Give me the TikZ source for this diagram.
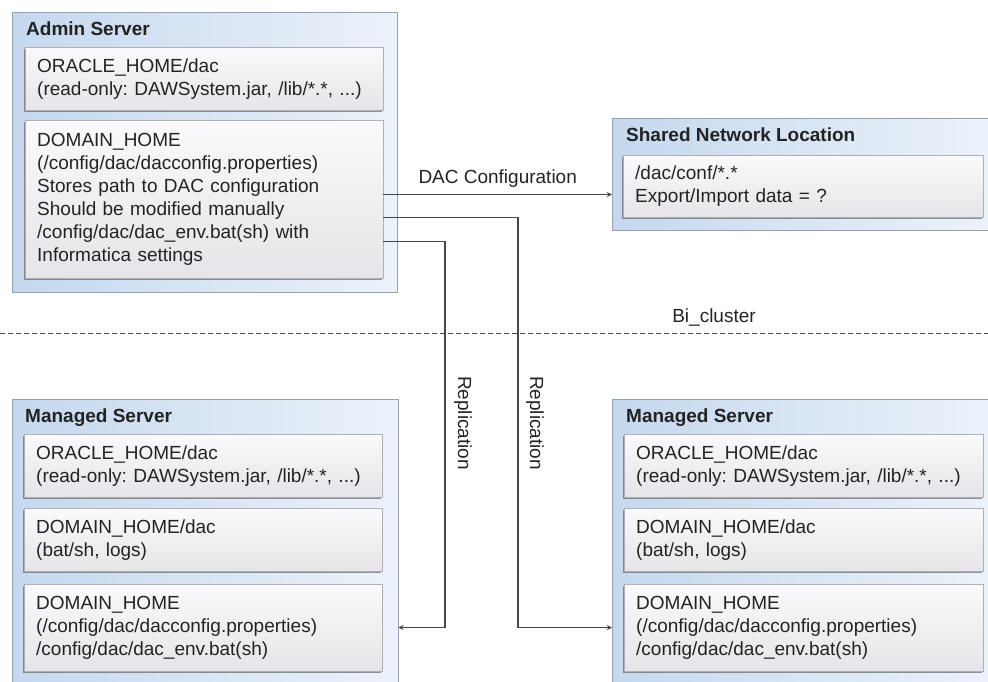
\documentclass[tikz,border=0pt]{standalone}
\usepackage{fontspec}
\setmainfont{Liberation Sans}
\usetikzlibrary{calc,positioning,shadows,arrows}
\definecolor{PanelBlue}{RGB}{197,216,238}
\definecolor{PanelLight}{RGB}{236,242,250}
\definecolor{PanelEdge}{RGB}{150,162,180}
\definecolor{BoxTop}{RGB}{250,250,252}
\definecolor{BoxBottom}{RGB}{229,229,233}
\definecolor{BoxEdge}{RGB}{175,175,180}
\definecolor{LineGray}{RGB}{70,70,70}
\definecolor{TextGray}{RGB}{35,35,35}
\frenchspacing

\begin{document}
\begin{tikzpicture}[x=1pt,y=-1pt,font=\fontsize{19}{23}\selectfont,text=TextGray]
				\tikzstyle{panel} = [rectangle, anchor=north west, inner sep=0pt, draw=PanelEdge, left color=PanelBlue, right color=PanelLight]
				\tikzstyle{title} = [anchor=base west, inner sep=0pt, font=\fontsize{19}{23}\selectfont\bfseries]
				\tikzstyle{folder} = [rectangle, anchor=north west, draw=BoxEdge, top color=BoxTop, bottom color=BoxBottom, align=left, inner xsep=12pt, inner ysep=0pt, text width=334pt, drop shadow={shadow xshift=-1.3pt, shadow yshift=-1.8pt, opacity=0.7, fill=gray!80!black}]
				\tikzstyle{arrow} = [line width=1.3pt, draw=LineGray, ->, >=stealth]
				\tikzstyle{cluster} = [line width=0.9pt, draw=LineGray, dash pattern=on 5pt off 3pt]
				\tikzstyle{lbl} = [inner sep=0pt]
				
				\useasboundingbox (0,0) rectangle (988,681);
				
				\node (admin) [panel, minimum width=385pt, minimum height=280pt] at (12,12) {};
				\node (admintitle) [title] at (26,35) {Admin Server};
				\node (aoracle) [folder, minimum height=63pt] at (25,47) {ORACLE\_HOME/dac\\(read-only: DAWSystem.jar, /lib/*.*, ...)};
				\node (adomain) [folder, minimum height=158pt, below=10pt of aoracle] {DOMAIN\_HOME\\(/config/dac/dacconfig.properties)\\Stores path to DAC configuration\\Should be modified manually\\/config/dac/dac\_env.bat(sh) with\\Informatica settings};
				
				\node (shared) [panel, minimum width=380pt, minimum height=112pt] at (612,118) {};
				\node (sharedtitle) [title] at (626,141) {Shared Network Location};
				\node (sharedin) [folder, minimum height=62pt, text width=336pt] at (623,155) {/dac/conf/*.*\\Export/Import data = ?};
				
				\node (lserver) [panel, minimum width=386pt, minimum height=300pt] at (12,399) {};
				\node (ltitle) [title] at (25,422) {Managed Server};
				\node (loracle) [folder, minimum height=63pt] at (24,434) {ORACLE\_HOME/dac\\(read-only: DAWSystem.jar, /lib/*.*, ...)};
				\node (ldac) [folder, minimum height=63pt, below=11pt of loracle] {DOMAIN\_HOME/dac\\(bat/sh, logs)};
				\node (ldomain) [folder, minimum height=87pt, below=12pt of ldac] {DOMAIN\_HOME\\(/config/dac/dacconfig.properties)\\/config/dac/dac\_env.bat(sh)};
				
				\node (rserver) [panel, minimum width=380pt, minimum height=300pt] at (612,399) {};
				\node (rtitle) [title] at (626,422) {Managed Server};
				\node (roracle) [folder, minimum height=63pt, text width=335pt] at (624,434) {ORACLE\_HOME/dac\\(read-only: DAWSystem.jar, /lib/*.*, ...)};
				\node (rdac) [folder, minimum height=63pt, text width=335pt, below=11pt of roracle] {DOMAIN\_HOME/dac\\(bat/sh, logs)};
				\node (rdomain) [folder, minimum height=87pt, text width=335pt, below=12pt of rdac] {DOMAIN\_HOME\\(/config/dac/dacconfig.properties)\\/config/dac/dac\_env.bat(sh)};
				
				% cluster boundary
				\coordinate (clusterL) at (0,333);
				\coordinate (clusterR) at (988,333);
				\draw [cluster] (clusterL) -- (clusterR);
				\node (clusterlbl) [lbl] at (714,317) {Bi\_cluster};
				
				\coordinate (dacout) at ([yshift=5pt]adomain.east);
				\coordinate (replout1) at ([yshift=-18pt]adomain.east);
				\coordinate (replout2) at ([yshift=-42pt]adomain.east);
				\coordinate (repl1) at (518,0);
				\coordinate (repl2) at (445,0);
				\draw [arrow] (dacout) -- (dacout -| shared.west) node[lbl, midway, above=7pt] {DAC Configuration};
				\draw [arrow] (replout1) -| (repl1 |- rdomain) -- (rserver.west |- rdomain);
				\draw [arrow] (replout2) -| (repl2 |- ldomain) -- (lserver.east |- ldomain);
				\node (repl1lbl) [lbl, rotate=-90] at (535,423) {Replication};
				\node (repl2lbl) [lbl, rotate=-90] at (463,423) {Replication};
\end{tikzpicture}
\end{document}
